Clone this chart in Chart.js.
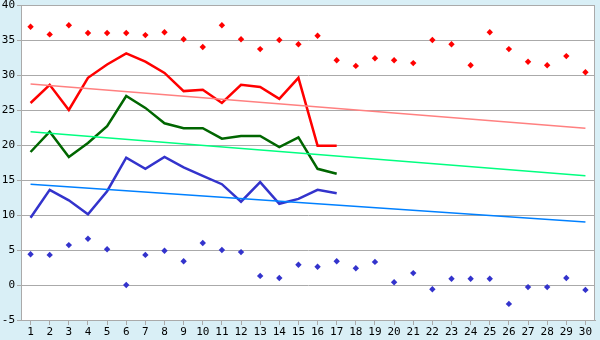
<!DOCTYPE html>
<html>
<head>
<meta charset="utf-8">
<script src="https://cdn.jsdelivr.net/npm/chart.js@4"></script>
<style>
  html, body { margin: 0; padding: 0; background: #d9eff6; }
  #wrap { width: 600px; height: 340px; }
</style>
</head>
<body>
<div id="wrap"><canvas id="myChart" width="600" height="340"></canvas></div>
<script>
var days = ['1','2','3','4','5','6','7','8','9','10','11','12','13','14','15',
            '16','17','18','19','20','21','22','23','24','25','26','27','28','29','30'];

var redLine = [26.0, 28.6, 25.0, 29.6, 31.5, 33.1, 31.9, 30.3, 27.7, 27.9,
               26.0, 28.6, 28.3, 26.6, 29.6, 19.9, 19.9];
var greenLine = [19.0, 21.9, 18.3, 20.3, 22.7, 27.0, 25.3, 23.1, 22.4, 22.4,
                 20.9, 21.3, 21.3, 19.7, 21.1, 16.6, 15.9];
var blueLine = [9.6, 13.6, 12.1, 10.1, 13.4, 18.2, 16.6, 18.3, 16.8, 15.6,
                14.4, 11.9, 14.7, 11.6, 12.3, 13.6, 13.1];

var redDots = [36.9, 35.8, 37.1, 36.0, 36.0, 36.0, 35.7, 36.1, 35.1, 34.0,
               37.1, 35.1, 33.7, 35.0, 34.4, 35.6, 32.1, 31.3, 32.4, 32.1,
               31.7, 35.0, 34.4, 31.4, 36.1, 33.7, 31.9, 31.4, 32.7, 30.4];
var blueDots = [4.4, 4.3, 5.7, 6.6, 5.1, 0.0, 4.3, 4.9, 3.4, 6.0,
                5.0, 4.7, 1.3, 1.0, 2.9, 2.6, 3.4, 2.4, 3.3, 0.4,
                1.7, -0.6, 0.9, 0.9, 0.9, -2.7, -0.3, -0.3, 1.0, -0.7];

// trend lines: start and end values only
var redTrend = [28.7, 22.4];
var greenTrend = [21.9, 15.6];
var blueTrend = [14.4, 9.0];

var yTicks = [-5, 0, 5, 10, 15, 20, 25, 30, 35, 40];

function trend(ends) {
    var d = days.map(function () { return null; });
    d[0] = ends[0];
    d[days.length - 1] = ends[1];
    return d;
}

var frame = {
    id: 'frame',
    beforeDraw: function (chart) {
        var c = chart.ctx, a = chart.chartArea;
        c.save();
        c.fillStyle = '#d9eff6';
        c.fillRect(0, 0, chart.width, chart.height);
        c.fillStyle = '#ffffff';
        c.fillRect(a.left, a.top, a.right - a.left, a.bottom - a.top);
        c.restore();
    },
    afterDraw: function (chart) {
        var c = chart.ctx, a = chart.chartArea;
        c.save();
        c.strokeStyle = '#aaaaaa';
        c.lineWidth = 1;
        c.strokeRect(a.left + 0.5, a.top + 0.5, a.right - a.left - 1, a.bottom - a.top);
        c.restore();
    }
};

var font = { family: 'DejaVu Sans Mono', size: 11 };

var myChart = new Chart('myChart', {
    type: 'line',
    data: {
        labels: days,
        datasets: [
            { data: trend(redTrend), borderColor: '#ff8080', borderWidth: 1.5, pointRadius: 0, spanGaps: true },
            { data: trend(greenTrend), borderColor: '#00ff80', borderWidth: 1.5, pointRadius: 0, spanGaps: true },
            { data: trend(blueTrend), borderColor: '#0080ff', borderWidth: 1.5, pointRadius: 0, spanGaps: true },
            { data: redLine, borderColor: '#ff0000', borderWidth: 2.5, pointRadius: 0, tension: 0 },
            { data: greenLine, borderColor: '#006600', borderWidth: 2.5, pointRadius: 0, tension: 0 },
            { data: blueLine, borderColor: '#3333cc', borderWidth: 2.5, pointRadius: 0, tension: 0 },
            { data: redDots, showLine: false, pointStyle: 'rectRot', pointRadius: 3.2,
              backgroundColor: '#ff0000', borderWidth: 0 },
            { data: blueDots, showLine: false, pointStyle: 'rectRot', pointRadius: 3.2,
              backgroundColor: '#3333cc', borderWidth: 0 }
        ]
    },
    options: {
        responsive: false,
        animation: false,
        layout: { padding: { top: 0, right: 5, left: 0, bottom: 0 } },
        plugins: {
            legend: { display: false },
            tooltip: { enabled: false }
        },
        scales: {
            x: {
                offset: true,
                grid: { drawOnChartArea: false, drawTicks: true, tickLength: 5, color: '#aaaaaa', offset: false },
                border: { color: '#aaaaaa' },
                ticks: { color: '#000000', font: font, padding: 1, maxRotation: 0, autoSkip: false },
                afterFit: function (s) { s.height = 20; s.paddingLeft = 0; s.paddingRight = 0; }
            },
            y: {
                min: -5,
                max: 40,
                afterBuildTicks: function (s) { s.ticks = yTicks.map(function (v) { return { value: v }; }); },
                grid: { color: '#aaaaaa', tickLength: 4 },
                border: { color: '#aaaaaa' },
                ticks: { color: '#000000', font: font, padding: 2 },
                afterFit: function (s) { s.width = 21; s.paddingTop = 5; s.paddingBottom = 0; }
            }
        }
    },
    plugins: [frame]
});
</script>
</body>
</html>
